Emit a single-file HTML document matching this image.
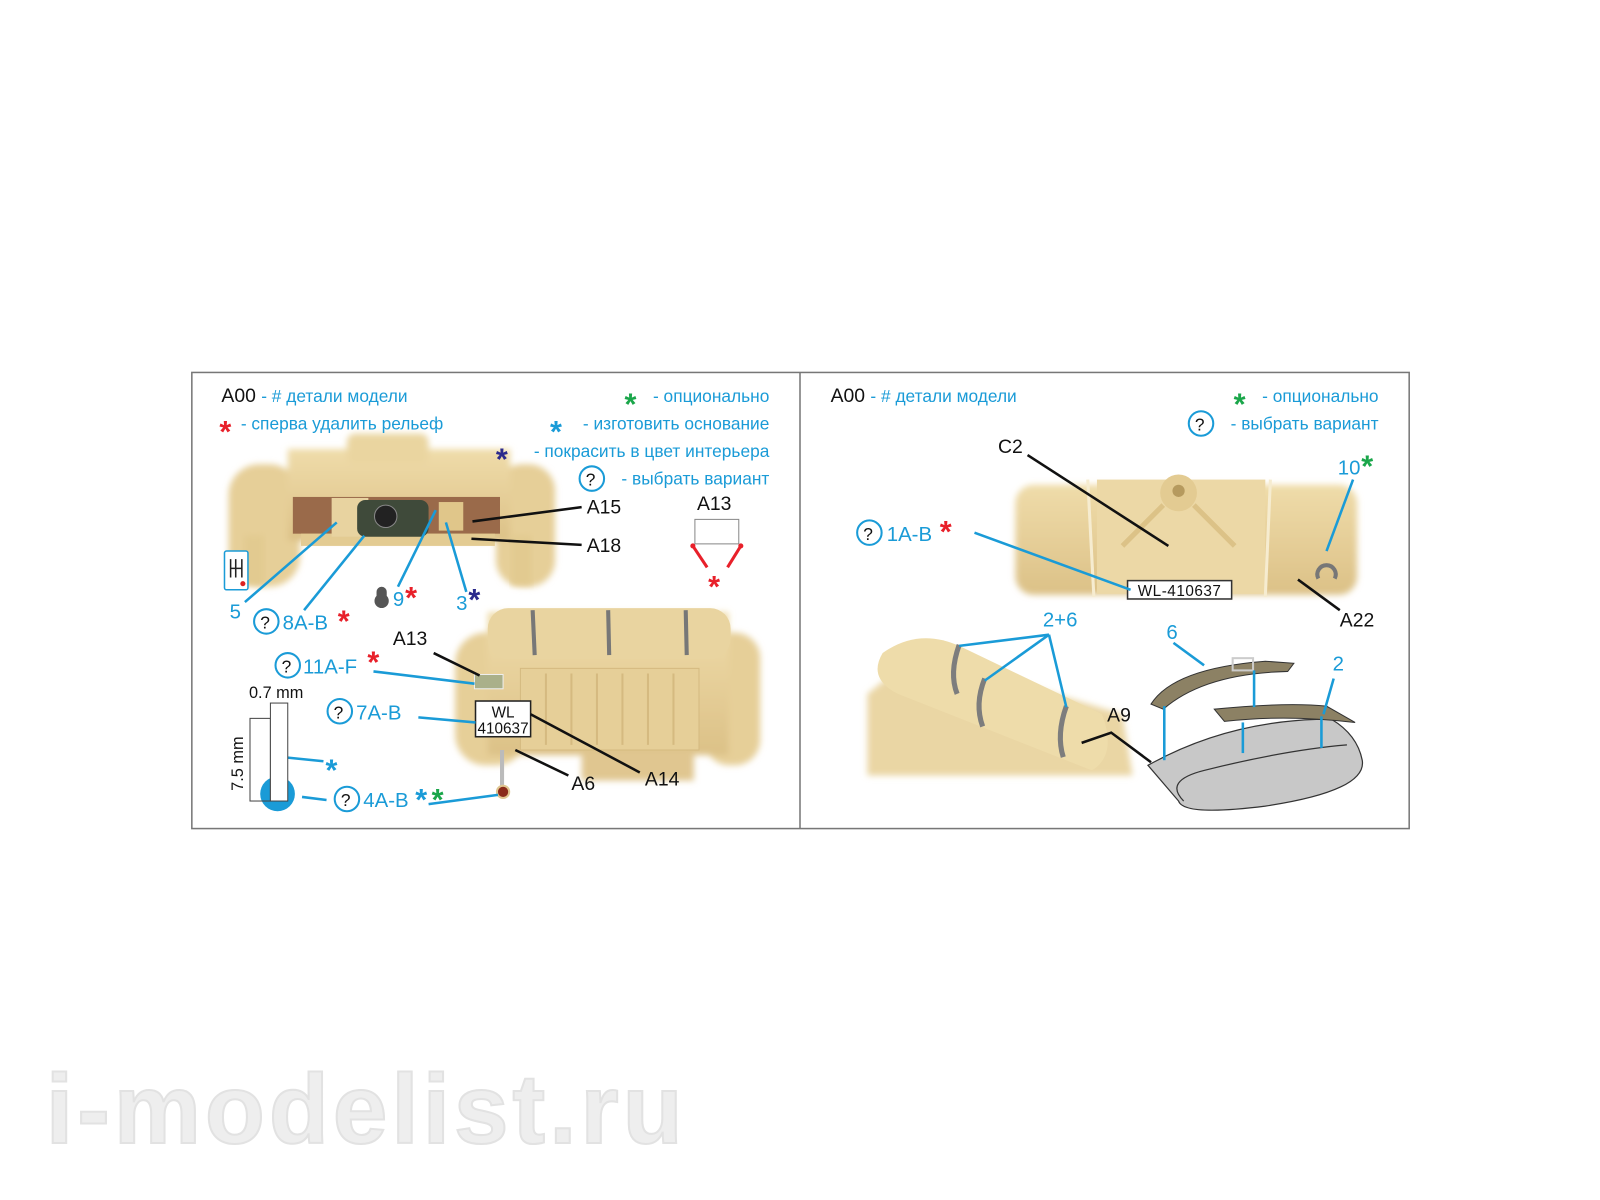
<!DOCTYPE html>
<html><head><meta charset="utf-8"><style>
html,body{margin:0;padding:0;background:#fff}
svg{display:block}
text{font-family:"Liberation Sans","DejaVu Sans",sans-serif}
.b{fill:#1a9bd7}.k{fill:#111}
.s{font-weight:bold;font-size:30px}
</style></head><body>
<svg width="1600" height="1200" viewBox="0 0 1568 1176" xmlns="http://www.w3.org/2000/svg">
<defs>
<filter id="bl" x="-10%" y="-10%" width="120%" height="120%"><feGaussianBlur stdDeviation="3"/></filter>
<linearGradient id="tan" x1="0" y1="0" x2="0" y2="1"><stop offset="0" stop-color="#efdcaa"/><stop offset="1" stop-color="#dcc187"/></linearGradient>
</defs>
<rect width="1568" height="1176" fill="#fff"/>
<!-- frame -->
<rect x="188" y="365" width="1193" height="447" fill="none" stroke="#777" stroke-width="1.5"/>
<line x1="784" y1="365" x2="784" y2="812" stroke="#777" stroke-width="1.5"/>

<!-- top photo -->
<g filter="url(#bl)">
<rect x="224" y="455" width="70" height="120" rx="30" fill="#e6cf98"/>
<rect x="486" y="455" width="58" height="120" rx="26" fill="#e6cf98"/>
<rect x="282" y="440" width="218" height="90" fill="url(#tan)"/>
<rect x="340" y="425" width="80" height="30" rx="8" fill="#ead5a0"/>
</g>
<rect x="287" y="487" width="203" height="36" fill="#9a6a4a"/>
<rect x="295" y="523" width="190" height="12" fill="#e3cb92"/>
<rect x="325" y="488" width="36" height="38" fill="#e8d3a0"/>
<rect x="350" y="490" width="70" height="36" rx="8" fill="#3f4a3a"/>
<circle cx="378" cy="506" r="11" fill="#222" stroke="#888"/>
<rect x="430" y="492" width="24" height="28" fill="#e0c68a"/>
<rect x="239" y="525" width="20" height="48" fill="#e2ca90" filter="url(#bl)"/>
<rect x="501" y="525" width="20" height="48" fill="#e2ca90" filter="url(#bl)"/>

<!-- LEFT PANEL legend -->
<g font-size="18">
<text x="217" y="394" class="k" font-size="19">A00</text><text x="256" y="394" class="b" font-size="17"> - # детали модели</text>
<text x="215" y="433" fill="#e8202a" class="s">*</text><text x="236" y="421" class="b" font-size="17">- сперва удалить рельеф</text>
<g text-anchor="end" font-size="17">
<text x="754" y="394" class="b">- опционально</text>
<text x="754" y="421" class="b">- изготовить основание</text>
<text x="754" y="448" class="b">- покрасить в цвет интерьера</text>
<text x="754" y="475" class="b">- выбрать вариант</text>
</g>
<text x="612" y="406" fill="#1aa64a" class="s">*</text>
<text x="539" y="433" fill="#1a9bd7" class="s">*</text>
<text x="486" y="460" fill="#2b2a8c" class="s">*</text>
<circle cx="580" cy="469" r="12" fill="none" stroke="#1a9bd7" stroke-width="2"/><text x="574" y="476" font-size="17" class="k">?</text>
</g>

<!-- gear icon -->
<rect x="220" y="540" width="23" height="38" rx="2" fill="#fff" stroke="#1a9bd7" stroke-width="1.5"/>
<path d="M226 548v18M231 548v18M237 548v18M226 557h11" stroke="#222" stroke-width="1.5"/>
<circle cx="238" cy="572" r="2.5" fill="#d22"/>
<!-- A15/A18 -->
<g stroke="#111" stroke-width="2.5">
<line x1="463" y1="511" x2="570" y2="497"/>
<line x1="462" y1="528" x2="570" y2="534"/>
</g>
<text x="575" y="503" font-size="19" class="k">A15</text>
<text x="575" y="541" font-size="19" class="k">A18</text>
<!-- A13 right -->
<text x="683" y="500" font-size="19" class="k">A13</text>
<rect x="681" y="509" width="43" height="24" fill="#fff" stroke="#888"/>
<g stroke="#e8202a" stroke-width="3"><line x1="679" y1="535" x2="693" y2="556"/><line x1="726" y1="535" x2="713" y2="556"/></g>
<circle cx="679" cy="535" r="2.5" fill="#e8202a"/><circle cx="726" cy="535" r="2.5" fill="#e8202a"/>
<text x="694" y="585" fill="#e8202a" class="s">*</text>
<!-- leaders top -->
<g stroke="#1a9bd7" stroke-width="2.5">
<line x1="240" y1="590" x2="330" y2="512"/>
<line x1="298" y1="598" x2="357" y2="525"/>
<line x1="390" y1="575" x2="427" y2="500"/>
<line x1="457" y1="580" x2="437" y2="512"/>
</g>
<text x="225" y="606" font-size="20" class="b">5</text>
<circle cx="261" cy="609" r="12" fill="none" stroke="#1a9bd7" stroke-width="2"/><text x="255" y="616" font-size="17" class="k">?</text>
<text x="277" y="617" font-size="20" class="b">8A-B</text><text x="331" y="619" fill="#e8202a" class="s">*</text>
<path d="M374 575a5 5 0 0 1 5 5v4a7 7 0 1 1-10 0v-4a5 5 0 0 1 5-5z" fill="#555"/>
<text x="385" y="594" font-size="20" class="b">9</text><text x="397" y="596" fill="#e8202a" class="s">*</text>
<text x="447" y="598" font-size="20" class="b">3</text><text x="459" y="598" fill="#2b2a8c" class="s">*</text>

<!-- bottom photo -->
<g filter="url(#bl)">
<rect x="446" y="620" width="70" height="130" rx="30" fill="#e6cf98"/>
<rect x="690" y="620" width="55" height="130" rx="25" fill="#e6cf98"/>
<rect x="478" y="600" width="236" height="140" fill="url(#tan)"/>
<rect x="570" y="735" width="110" height="30" fill="#e0c690"/>
</g>
<rect x="478" y="596" width="238" height="50" rx="20" fill="#e9d4a0"/>
<g stroke="#777" stroke-width="4"><line x1="522" y1="598" x2="524" y2="642"/><line x1="596" y1="598" x2="597" y2="642"/><line x1="672" y1="598" x2="673" y2="642"/></g>
<rect x="510" y="655" width="175" height="80" fill="#e6cf98" stroke="#d5ba80"/>
<g stroke="#d5ba80" stroke-width="2"><line x1="535" y1="660" x2="535" y2="730"/><line x1="560" y1="660" x2="560" y2="730"/><line x1="585" y1="660" x2="585" y2="730"/><line x1="610" y1="660" x2="610" y2="730"/><line x1="635" y1="660" x2="635" y2="730"/><line x1="660" y1="660" x2="660" y2="730"/></g>
<rect x="465" y="661" width="28" height="14" fill="#aab08a" stroke="#eee"/>
<rect x="466" y="687" width="54" height="35" fill="#fff" stroke="#222" stroke-width="1.5"/>
<text x="493" y="703" font-size="15" text-anchor="middle" class="k">WL</text>
<text x="493" y="719" font-size="15" text-anchor="middle" class="k">410637</text>
<line x1="492" y1="735" x2="492" y2="770" stroke="#bbb" stroke-width="4"/>
<circle cx="493" cy="776" r="6" fill="#8a2a1a" stroke="#e0c690" stroke-width="2"/>
<g stroke="#111" stroke-width="2.5">
<line x1="425" y1="640" x2="470" y2="662"/>
<line x1="505" y1="735" x2="557" y2="760"/>
<line x1="520" y1="700" x2="627" y2="757"/>
</g>
<text x="385" y="632" font-size="19" class="k">A13</text>
<text x="560" y="774" font-size="19" class="k">A6</text>
<text x="632" y="770" font-size="19" class="k">A14</text>
<g stroke="#1a9bd7" stroke-width="2.5">
<line x1="366" y1="658" x2="465" y2="670"/>
<line x1="410" y1="703" x2="466" y2="708"/>
<line x1="277" y1="742" x2="317" y2="746"/>
<line x1="296" y1="781" x2="320" y2="784"/>
<line x1="420" y1="788" x2="488" y2="779"/>
</g>
<circle cx="282" cy="652" r="12" fill="none" stroke="#1a9bd7" stroke-width="2"/><text x="276" y="659" font-size="17" class="k">?</text>
<text x="297" y="660" font-size="20" class="b">11A-F</text><text x="360" y="659" fill="#e8202a" class="s">*</text>
<circle cx="333" cy="697" r="12" fill="none" stroke="#1a9bd7" stroke-width="2"/><text x="327" y="704" font-size="17" class="k">?</text>
<text x="349" y="705" font-size="20" class="b">7A-B</text>
<!-- dimension -->
<text x="244" y="684" font-size="16" class="k">0.7 mm</text>
<circle cx="272" cy="778" r="17" fill="#1a9bd7"/>
<rect x="245" y="704" width="20" height="81" fill="none" stroke="#444" stroke-width="1"/>
<rect x="265" y="689" width="17" height="96" fill="#fff" stroke="#444" stroke-width="1"/>
<text transform="translate(238,775) rotate(-90)" font-size="16" class="k">7.5 mm</text>
<text x="319" y="765" fill="#1a9bd7" class="s">*</text>
<circle cx="340" cy="783" r="12" fill="none" stroke="#1a9bd7" stroke-width="2"/><text x="334" y="790" font-size="17" class="k">?</text>
<text x="356" y="791" font-size="20" class="b">4A-B</text>
<text x="407" y="794" fill="#1a9bd7" class="s">*</text><text x="423" y="794" fill="#1aa64a" class="s">*</text>

<!-- RIGHT PANEL -->
<text x="814" y="394" class="k" font-size="19">A00</text><text x="853" y="394" class="b" font-size="17"> - # детали модели</text>
<text x="1209" y="406" fill="#1aa64a" class="s">*</text>
<text x="1351" y="394" text-anchor="end" class="b" font-size="17">- опционально</text>
<circle cx="1177" cy="415" r="12" fill="none" stroke="#1a9bd7" stroke-width="2"/><text x="1171" y="422" font-size="17" class="k">?</text>
<text x="1351" y="421" text-anchor="end" class="b" font-size="17">- выбрать вариант</text>
<!-- body photo -->
<g filter="url(#bl)">
<rect x="995" y="475" width="335" height="108" rx="18" fill="url(#tan)"/>
</g>
<rect x="1075" y="470" width="165" height="112" fill="#ecd8a6"/>
<circle cx="1155" cy="483" r="18" fill="#e3cb92"/><circle cx="1155" cy="481" r="6" fill="#b69a5e"/>
<g stroke="#dcc287" stroke-width="5"><line x1="1140" y1="495" x2="1100" y2="535"/><line x1="1170" y1="495" x2="1210" y2="535"/></g>
<line x1="1066" y1="470" x2="1072" y2="585" stroke="#f6ecd0" stroke-width="3"/>
<line x1="1245" y1="470" x2="1240" y2="585" stroke="#f6ecd0" stroke-width="3"/>
<rect x="1105" y="569" width="102" height="18" fill="#fff" stroke="#333" stroke-width="1.5"/>
<text x="1156" y="584" font-size="15" text-anchor="middle" class="k" letter-spacing="0.5">WL-410637</text>
<path d="M1292 567a9 9 0 1 1 16 0" fill="none" stroke="#777" stroke-width="4"/>
<line x1="1007" y1="446" x2="1145" y2="535" stroke="#111" stroke-width="2.5"/>
<text x="978" y="444" font-size="19" class="k">C2</text>
<line x1="955" y1="522" x2="1108" y2="578" stroke="#1a9bd7" stroke-width="2.5"/>
<circle cx="852" cy="522" r="12" fill="none" stroke="#1a9bd7" stroke-width="2"/><text x="846" y="529" font-size="17" class="k">?</text>
<text x="869" y="530" font-size="20" class="b">1A-B</text><text x="921" y="531" fill="#e8202a" class="s">*</text>
<text x="1311" y="465" font-size="20" class="b">10</text><text x="1334" y="467" fill="#1aa64a" class="s">*</text>
<line x1="1326" y1="470" x2="1300" y2="540" stroke="#1a9bd7" stroke-width="2.5"/>
<line x1="1272" y1="568" x2="1313" y2="598" stroke="#111" stroke-width="2.5"/>
<text x="1313" y="614" font-size="19" class="k">A22</text>
<!-- roll photo -->
<g filter="url(#bl)">
<path d="M850 680 L900 640 L1100 700 L1110 760 L850 760 Z" fill="#ead6a4"/>
</g>
<path d="M865 640 Q900 615 940 633 L1080 700 Q1095 740 1070 755 L880 680 Q850 665 865 640Z" fill="#eedcaa"/>
<g stroke="#7d7d7d" stroke-width="5" fill="none"><path d="M940 632 Q930 660 938 680"/><path d="M965 665 Q955 690 963 712"/><path d="M1045 692 Q1035 720 1042 742"/></g>
<g stroke="#1a9bd7" stroke-width="2.5">
<line x1="1028" y1="622" x2="940" y2="633"/>
<line x1="1028" y1="622" x2="965" y2="667"/>
<line x1="1028" y1="622" x2="1045" y2="693"/>
</g>
<text x="1022" y="614" font-size="20" class="b">2+6</text>
<polyline points="1060,728 1089,718 1128,747" fill="none" stroke="#111" stroke-width="2.5"/>
<text x="1085" y="707" font-size="19" class="k">A9</text>
<!-- oval diagram -->
<path d="M1125 750 Q1200 708 1290 705 L1305 705 Q1330 720 1335 745 Q1340 775 1240 790 Q1160 800 1155 785 Z" fill="#c8c8c8" stroke="#333" stroke-width="1.2"/>
<path d="M1160 785 Q1140 765 1180 755 Q1260 735 1320 730" fill="none" stroke="#333" stroke-width="1.2"/>
<path d="M1128 690 Q1150 655 1240 648 L1268 650 L1262 658 Q1180 660 1140 695 Z" fill="#8c8164" stroke="#333"/>
<rect x="1208" y="645" width="20" height="12" fill="none" stroke="#ccc" stroke-width="2"/>
<path d="M1190 695 Q1260 688 1300 692 L1328 708 Q1260 700 1200 707 Z" fill="#8c8164" stroke="#333"/>
<g stroke="#1a9bd7" stroke-width="2.5">
<line x1="1141" y1="692" x2="1141" y2="745"/>
<line x1="1229" y1="657" x2="1229" y2="693"/>
<line x1="1218" y1="708" x2="1218" y2="738"/>
<line x1="1295" y1="702" x2="1295" y2="733"/>
<line x1="1150" y1="630" x2="1180" y2="652"/>
<line x1="1307" y1="665" x2="1297" y2="700"/>
</g>
<text x="1143" y="626" font-size="20" class="b">6</text>
<text x="1306" y="657" font-size="20" class="b">2</text>

<!-- watermark -->
<text x="45" y="1120" font-size="96" font-weight="bold" fill="#eeeeee" stroke="#e2e2e2" stroke-width="2" letter-spacing="4">i-modelist.ru</text>
</svg>
</body></html>
